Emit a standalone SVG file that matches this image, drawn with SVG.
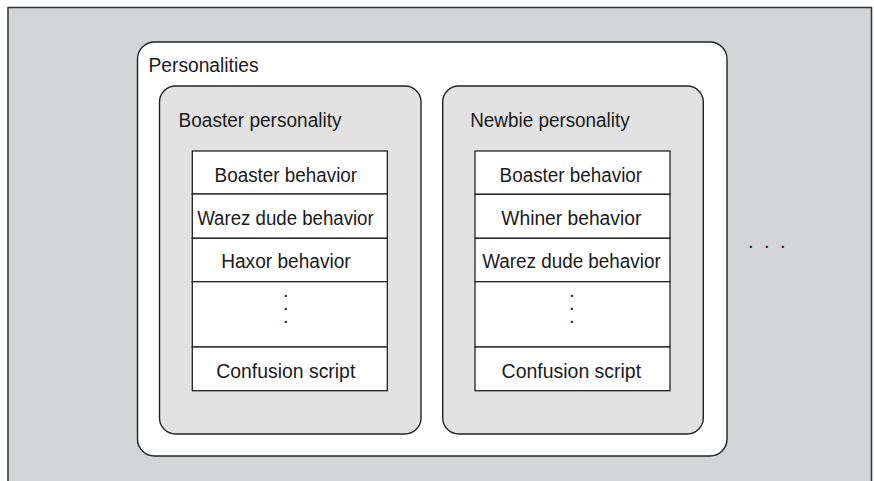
<svg xmlns="http://www.w3.org/2000/svg" width="874" height="481" viewBox="0 0 874 481">
<style>
.bg{fill:#d3d4d6;stroke:#333;stroke-width:1.5}
.outer{fill:#ffffff;stroke:#222;stroke-width:1.4}
.pers{fill:#e2e2e3;stroke:#222;stroke-width:1.4}
.cell{fill:#ffffff;stroke:#222;stroke-width:1.3}
text{font-family:"Liberation Sans",Arial,sans-serif;fill:#1a1a1a}
.t{font-size:19.5px}
.h{font-size:20px}
.dot{font-size:20px}
</style>
<path class="bg" d="M8,482 V7.5 H871.5 V482"/>
<g id="personalities">
<rect class="outer" x="137.5" y="42" width="589.5" height="414" rx="17" ry="17"/>
<text class="h" x="148.5" y="72" textLength="110" lengthAdjust="spacingAndGlyphs">Personalities</text>
</g>
<g id="boaster-personality">
<rect class="pers" x="159.5" y="86" width="261.5" height="348" rx="16" ry="16"/>
<text class="h" x="178.5" y="127.3" textLength="163" lengthAdjust="spacingAndGlyphs">Boaster personality</text>
<g id="boaster-behaviors">
<rect class="cell" x="192.3" y="151" width="195" height="43"/>
<rect class="cell" x="192.3" y="194" width="195" height="44.3"/>
<rect class="cell" x="192.3" y="238.3" width="195" height="43.4"/>
<rect class="cell" x="192.3" y="281.7" width="195" height="65.3"/>
<rect class="cell" x="192.3" y="347" width="195" height="43.7"/>
<text class="t" x="214.6" y="181.7" textLength="142.5" lengthAdjust="spacingAndGlyphs">Boaster behavior</text>
<text class="t" x="197.2" y="225" textLength="176.5" lengthAdjust="spacingAndGlyphs">Warez dude behavior</text>
<text class="t" x="221.2" y="268.3" textLength="129.5" lengthAdjust="spacingAndGlyphs">Haxor behavior</text>
<text class="dot" x="282.9 282.9 282.9" y="296.5 309.8 323.2">...</text>
<text class="t" x="216.3" y="378.3" textLength="139" lengthAdjust="spacingAndGlyphs">Confusion script</text>
</g>
</g>
<g id="newbie-personality">
<rect class="pers" x="442.7" y="86" width="260.6" height="348" rx="16" ry="16"/>
<text class="h" x="470.2" y="127.3" textLength="159.5" lengthAdjust="spacingAndGlyphs">Newbie personality</text>
<g id="newbie-behaviors">
<rect class="cell" x="475" y="151" width="195" height="43.3"/>
<rect class="cell" x="475" y="194.3" width="195" height="44"/>
<rect class="cell" x="475" y="238.3" width="195" height="43.4"/>
<rect class="cell" x="475" y="281.7" width="195" height="65.3"/>
<rect class="cell" x="475" y="347" width="195" height="43.7"/>
<text class="t" x="499.6" y="181.7" textLength="142.5" lengthAdjust="spacingAndGlyphs">Boaster behavior</text>
<text class="t" x="501.3" y="224.5" textLength="140" lengthAdjust="spacingAndGlyphs">Whiner behavior</text>
<text class="t" x="482.2" y="268.3" textLength="178.5" lengthAdjust="spacingAndGlyphs">Warez dude behavior</text>
<text class="dot" x="568.9 568.9 568.9" y="296.5 309.8 323.2">...</text>
<text class="t" x="501.6" y="378.3" textLength="139.5" lengthAdjust="spacingAndGlyphs">Confusion script</text>
</g>
</g>
<g id="more">
<text class="dot" x="747.9 763.9 779.9" y="248">...</text>
</g>
<g id="connectors"></g>
</svg>
